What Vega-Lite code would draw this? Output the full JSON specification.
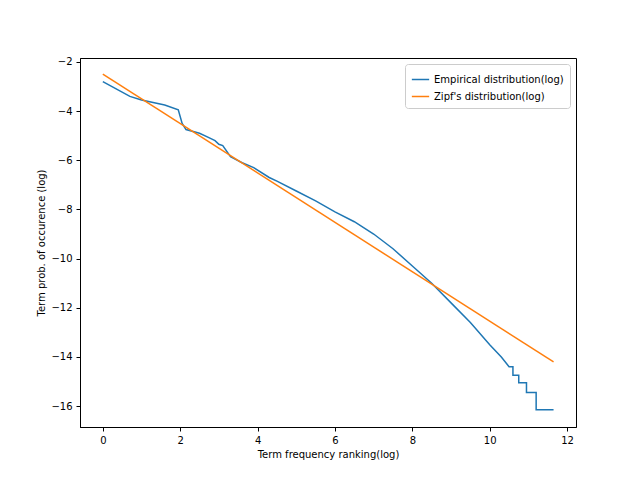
{
  "$schema": "https://vega.github.io/schema/vega-lite/v6.json",
  "autosize": {"type": "none"},
  "padding": {"left": 80, "top": 58, "right": 64, "bottom": 53},
  "width": 496,
  "height": 369,
  "config": {
    "font": "DejaVu Sans",
    "view": {"stroke": "black", "strokeWidth": 1},
    "axis": {"grid": false, "domain": true, "domainColor": "black", "tickColor": "black", "tickSize": 4, "labelColor": "black", "labelFontSize": 10, "titleFontSize": 10, "titleFontWeight": "normal", "titleColor": "black", "labelPadding": 4}
  },
  "data": {"values": [
    {"x": 0, "y": -2.8, "s": "Empirical distribution(log)"},
    {"x": 0.7, "y": -3.4, "s": "Empirical distribution(log)"},
    {"x": 1, "y": -3.55, "s": "Empirical distribution(log)"},
    {"x": 1.6, "y": -3.75, "s": "Empirical distribution(log)"},
    {"x": 1.95, "y": -3.95, "s": "Empirical distribution(log)"},
    {"x": 2.05, "y": -4.5, "s": "Empirical distribution(log)"},
    {"x": 2.15, "y": -4.75, "s": "Empirical distribution(log)"},
    {"x": 2.5, "y": -4.9, "s": "Empirical distribution(log)"},
    {"x": 2.7, "y": -5.05, "s": "Empirical distribution(log)"},
    {"x": 2.9, "y": -5.2, "s": "Empirical distribution(log)"},
    {"x": 3.0, "y": -5.35, "s": "Empirical distribution(log)"},
    {"x": 3.1, "y": -5.4, "s": "Empirical distribution(log)"},
    {"x": 3.3, "y": -5.85, "s": "Empirical distribution(log)"},
    {"x": 3.6, "y": -6.1, "s": "Empirical distribution(log)"},
    {"x": 3.9, "y": -6.3, "s": "Empirical distribution(log)"},
    {"x": 4.3, "y": -6.7, "s": "Empirical distribution(log)"},
    {"x": 4.5, "y": -6.85, "s": "Empirical distribution(log)"},
    {"x": 5, "y": -7.25, "s": "Empirical distribution(log)"},
    {"x": 5.5, "y": -7.65, "s": "Empirical distribution(log)"},
    {"x": 6, "y": -8.1, "s": "Empirical distribution(log)"},
    {"x": 6.5, "y": -8.5, "s": "Empirical distribution(log)"},
    {"x": 7, "y": -9.0, "s": "Empirical distribution(log)"},
    {"x": 7.5, "y": -9.6, "s": "Empirical distribution(log)"},
    {"x": 8, "y": -10.3, "s": "Empirical distribution(log)"},
    {"x": 8.5, "y": -11.0, "s": "Empirical distribution(log)"},
    {"x": 9, "y": -11.8, "s": "Empirical distribution(log)"},
    {"x": 9.5, "y": -12.6, "s": "Empirical distribution(log)"},
    {"x": 10, "y": -13.5, "s": "Empirical distribution(log)"},
    {"x": 10.3, "y": -14.0, "s": "Empirical distribution(log)"},
    {"x": 10.5, "y": -14.4, "s": "Empirical distribution(log)"},
    {"x": 10.6, "y": -14.4, "s": "Empirical distribution(log)"},
    {"x": 10.6, "y": -14.75, "s": "Empirical distribution(log)"},
    {"x": 10.75, "y": -14.75, "s": "Empirical distribution(log)"},
    {"x": 10.75, "y": -15.05, "s": "Empirical distribution(log)"},
    {"x": 10.95, "y": -15.05, "s": "Empirical distribution(log)"},
    {"x": 10.95, "y": -15.45, "s": "Empirical distribution(log)"},
    {"x": 11.2, "y": -15.45, "s": "Empirical distribution(log)"},
    {"x": 11.2, "y": -16.15, "s": "Empirical distribution(log)"},
    {"x": 11.65, "y": -16.15, "s": "Empirical distribution(log)"},
    {"x": 0, "y": -2.5, "s": "Zipf's distribution(log)"},
    {"x": 11.65, "y": -14.2, "s": "Zipf's distribution(log)"}
  ]},
  "mark": {"type": "line", "strokeWidth": 1.5},
  "encoding": {
    "x": {"field": "x", "type": "quantitative", "scale": {"domain": [-0.59, 12.23], "nice": false, "zero": false}, "axis": {"values": [0, 2, 4, 6, 8, 10, 12], "title": "Term frequency ranking(log)"}},
    "y": {"field": "y", "type": "quantitative", "scale": {"domain": [-16.85, -1.84], "nice": false, "zero": false}, "axis": {"values": [-16, -14, -12, -10, -8, -6, -4, -2], "title": "Term prob. of occurence (log)"}},
    "color": {"field": "s", "type": "nominal", "scale": {"range": ["#1f77b4", "#ff7f0e"]}, "legend": {"title": null, "orient": "top-right", "symbolType": "stroke", "symbolSize": 300, "symbolStrokeWidth": 1.5, "labelFontSize": 10, "labelColor": "black", "strokeColor": "#cccccc", "fillColor": "white", "padding": 6, "cornerRadius": 3, "offset": 6}},
    "order": {"field": "x"}
  }
}
